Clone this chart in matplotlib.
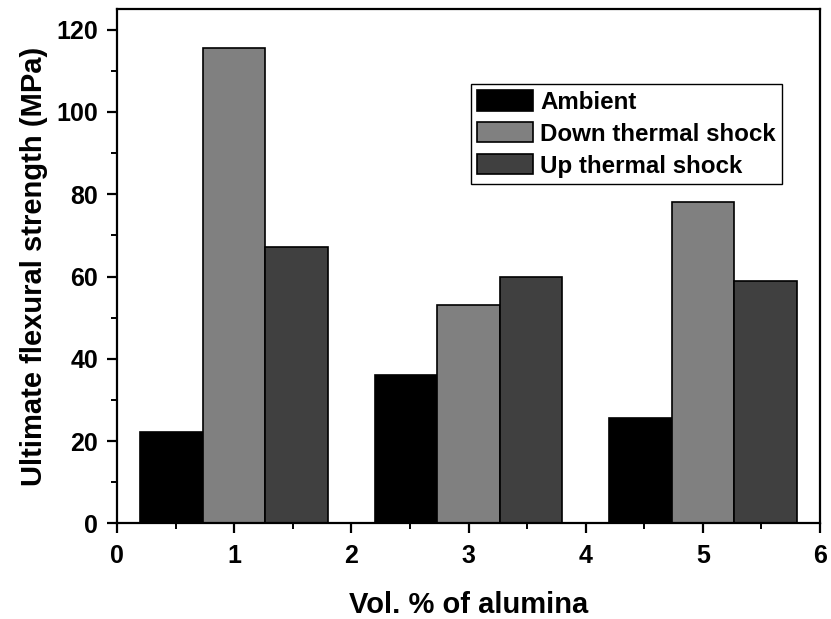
import matplotlib
matplotlib.use("Agg")
import matplotlib.pyplot as plt
import numpy as np
from matplotlib.ticker import MultipleLocator

plt.rcParams['font.family'] = ['Liberation Sans', 'DejaVu Sans']
plt.rcParams['font.weight'] = 'bold'

# Flexural strength of samples for each alumina content
alumina_vol = [1, 3, 5]
series_names = ["Ambient", "Down thermal shock", "Up thermal shock"]
ambient = [22.3, 36.1, 25.6]
down_shock = [115.5, 53.1, 78.0]
up_shock = [67.2, 60.0, 58.8]
bar_colors = ["#000000", "#808080", "#404040"]

fig = plt.figure(figsize=(8.31, 6.19), dpi=100)
ax = fig.add_axes([0.1408, 0.1543, 0.8460, 0.8312])

width = 0.8 * 2 / 3
x = np.array(alumina_vol, dtype=float)
for i, (vals, name, col) in enumerate(zip([ambient, down_shock, up_shock],
                                          series_names, bar_colors)):
    ax.bar(x + (i - 1) * width, vals, width=width, color=col,
           edgecolor="black", linewidth=1.2, label=name, zorder=2)

ax.set_xlim(0, 6)
ax.set_ylim(0, 125)
ax.xaxis.set_major_locator(MultipleLocator(1))
ax.xaxis.set_minor_locator(MultipleLocator(0.5))
ax.yaxis.set_major_locator(MultipleLocator(20))
ax.yaxis.set_minor_locator(MultipleLocator(10))

for s in ax.spines.values():
    s.set_linewidth(1.6)

ax.tick_params(axis="both", which="major", direction="out", length=7.5,
               width=1.6, labelsize=18, pad=6)
ax.tick_params(axis="x", which="major", pad=7.5)
ax.tick_params(axis="both", which="minor", direction="out", length=4.5,
               width=1.4)
for lab in ax.get_xticklabels() + ax.get_yticklabels():
    lab.set_fontweight("bold")

ax.set_xlabel("Vol. % of alumina", fontsize=21, fontweight="bold", labelpad=16)
ax.set_ylabel("Ultimate flexural strength (MPa)", fontsize=21,
              fontweight="bold", labelpad=6)

leg = ax.legend(loc="upper left", bbox_to_anchor=(0.5036, 0.854),
                prop={"weight": "bold", "size": 17.4},
                frameon=True, fancybox=False, shadow=False,
                edgecolor="black", framealpha=1,
                handlelength=2.3, handleheight=0.92, handletextpad=0.3,
                labelspacing=0.35, borderpad=0.25, borderaxespad=0)
leg.get_frame().set_linewidth(1.0)

fig.savefig("out.png", dpi=100)
